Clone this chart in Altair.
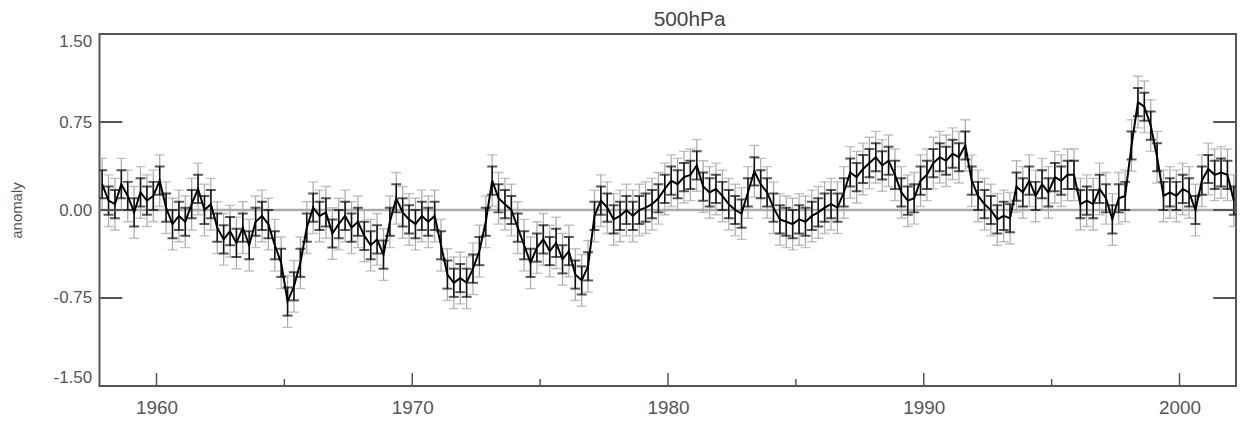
import altair as alt
import pandas as pd

# Seasonal (quarterly) anomaly values, starting 1957.875
START = 1957.875
STEP = 0.25
ANOM = [
    0.22, 0.08, 0.05, 0.22,      # 1958
    0.12, -0.02, 0.15, 0.08,     # 1959
    0.12, 0.25, 0.02, -0.12,     # 1960
    -0.05, -0.10, 0.05, 0.18,    # 1961
    0.00, 0.05, -0.15, -0.25,    # 1962
    -0.18, -0.28, -0.15, -0.30,  # 1963
    -0.10, -0.05, -0.12, -0.30,  # 1964
    -0.45, -0.78, -0.65, -0.45,  # 1965
    -0.15, 0.02, -0.05, -0.02,   # 1966
    -0.20, -0.12, -0.05, -0.15,  # 1967
    -0.10, -0.22, -0.30, -0.25,  # 1968
    -0.38, -0.10, 0.10, -0.02,   # 1969
    -0.08, -0.12, -0.05, -0.10,  # 1970
    -0.05, -0.30, -0.55, -0.62,  # 1971
    -0.58, -0.62, -0.50, -0.35,  # 1972
    -0.10, 0.25, 0.10, 0.05,     # 1973
    0.00, -0.15, -0.30, -0.45,   # 1974
    -0.32, -0.25, -0.35, -0.28,  # 1975
    -0.42, -0.35, -0.55, -0.60,  # 1976
    -0.48, -0.05, 0.08, 0.02,    # 1977
    -0.08, -0.05, 0.00, -0.05,   # 1978
    0.00, 0.02, 0.05, 0.10,      # 1979
    0.18, 0.25, 0.22, 0.28,      # 1980
    0.30, 0.38, 0.20, 0.15,      # 1981
    0.18, 0.12, 0.05, 0.00,      # 1982
    -0.03, 0.15, 0.33, 0.22,     # 1983
    0.15, 0.02, -0.08, -0.10,    # 1984
    -0.12, -0.08, -0.10, -0.05,  # 1985
    -0.02, 0.02, 0.05, 0.02,     # 1986
    0.15, 0.32, 0.28, 0.35,      # 1987
    0.40, 0.45, 0.38, 0.42,      # 1988
    0.30, 0.15, 0.08, 0.10,      # 1989
    0.25, 0.30, 0.40, 0.45,      # 1990
    0.42, 0.48, 0.45, 0.55,      # 1991
    0.25, 0.12, 0.05, 0.00,      # 1992
    -0.08, -0.05, -0.07, 0.20,   # 1993
    0.15, 0.25, 0.12, 0.22,      # 1994
    0.15, 0.28, 0.25, 0.30,      # 1995
    0.30, 0.05, 0.08, 0.05,      # 1996
    0.18, 0.10, -0.08, 0.10,     # 1997
    0.12, 0.55, 0.92, 0.88,      # 1998
    0.72, 0.45, 0.12, 0.15,      # 1999
    0.12, 0.18, 0.15, 0.00,      # 2000
    0.25, 0.35, 0.30, 0.32,      # 2001
    0.30, 0.08,                  # 2002
]
ERR_INNER = 0.12
ERR_OUTER = 0.22

Y_TICKS = [-1.5, -0.75, 0.0, 0.75, 1.5]
X_MAJOR = [1960, 1970, 1980, 1990, 2000]
X_MINOR = [1965, 1975, 1985, 1995]
X_DOMAIN = [1957.77, 2002.21]
Y_DOMAIN = [-1.5, 1.5]

W, H = 1143, 354
FRAME = "#555555"
FONT = "Liberation Sans"

df = pd.DataFrame({"t": [START + STEP * i for i in range(len(ANOM))], "v": ANOM})
df["lo1"] = df["v"] - ERR_INNER
df["hi1"] = df["v"] + ERR_INNER
df["lo2"] = df["v"] - ERR_OUTER
df["hi2"] = df["v"] + ERR_OUTER

xs = alt.Scale(domain=X_DOMAIN, nice=False, zero=False)
ys = alt.Scale(domain=Y_DOMAIN, nice=False, zero=False)

x_axis = alt.Axis(
    values=X_MAJOR, format="d", ticks=False, domain=False, grid=False,
    labelFontSize=19, labelPadding=13, labelColor="#555", labelFont=FONT,
    labelFlush=False, title=None,
)
y_axis = alt.Axis(
    values=Y_TICKS, ticks=False, domain=False, grid=False,
    labelExpr="replace(format(datum.value, '.2f'), '\u2212', '-')",
    labelFontSize=17, labelPadding=8, labelColor="#555", labelFont=FONT,
    labelFlush=True,
    title="anomaly", titleFontSize=15, titleFontWeight="normal", titleColor="#555",
    titleFont=FONT, titleAngle=-90, titleX=-78, titleY=H / 2,
    titleAlign="center", titleBaseline="alphabetic",
)


def X(field):
    return alt.X(field, scale=xs, axis=x_axis)


def Y(field):
    return alt.Y(field, scale=ys, axis=y_axis)


base = alt.Chart(df)

zero = alt.Chart(pd.DataFrame({"z": [0.0]})).mark_rule(
    color="#aaaaaa", strokeWidth=2.5
).encode(y=Y("z:Q"))

grey_bars = base.mark_rule(color="#a8a8a8", strokeWidth=1.2, clip=True).encode(
    x=X("t:Q"), y=Y("lo2:Q"), y2="hi2:Q"
)
grey_cap_lo = base.mark_tick(orient="horizontal", color="#a8a8a8", size=10, thickness=1.4, clip=True).encode(
    x=X("t:Q"), y=Y("lo2:Q")
)
grey_cap_hi = base.mark_tick(orient="horizontal", color="#a8a8a8", size=10, thickness=1.4, clip=True).encode(
    x=X("t:Q"), y=Y("hi2:Q")
)
black_bars = base.mark_rule(color="#111", strokeWidth=1.6, clip=True).encode(
    x=X("t:Q"), y=Y("lo1:Q"), y2="hi1:Q"
)
black_cap_lo = base.mark_tick(orient="horizontal", color="#111", size=10, thickness=2, clip=True).encode(
    x=X("t:Q"), y=Y("lo1:Q")
)
black_cap_hi = base.mark_tick(orient="horizontal", color="#111", size=10, thickness=2, clip=True).encode(
    x=X("t:Q"), y=Y("hi1:Q")
)
line = base.mark_line(color="#000", strokeWidth=2, clip=True).encode(
    x=X("t:Q"), y=Y("v:Q")
)

ytick_df = pd.DataFrame({"yv": Y_TICKS})
ytick_left = alt.Chart(ytick_df).mark_rule(color=FRAME, strokeWidth=2).encode(
    y=Y("yv:Q"), x=alt.value(0), x2=alt.value(23)
)
ytick_right = alt.Chart(ytick_df).mark_rule(color=FRAME, strokeWidth=2).encode(
    y=Y("yv:Q"), x=alt.value(W - 23), x2=alt.value(W)
)
xmaj = alt.Chart(pd.DataFrame({"xv": X_MAJOR})).mark_rule(color=FRAME, strokeWidth=1.5).encode(
    x=X("xv:Q"), y=alt.value(H), y2=alt.value(H - 13)
)
xmin = alt.Chart(pd.DataFrame({"xv": X_MINOR})).mark_rule(color=FRAME, strokeWidth=1.5).encode(
    x=X("xv:Q"), y=alt.value(H), y2=alt.value(H - 7)
)

chart = alt.layer(
    zero, grey_bars, grey_cap_lo, grey_cap_hi, black_bars, black_cap_lo, black_cap_hi, line,
    ytick_left, ytick_right, xmaj, xmin,
).properties(
    width=W,
    height=H,
    background="white",
    title=alt.TitleParams(
        "500hPa", fontSize=21, fontWeight="normal", color="#444", font=FONT,
        anchor="middle", dx=22, offset=3,
    ),
    autosize=alt.AutoSizeParams(type="none"),
    padding={"left": 92, "top": 25, "right": 2, "bottom": 36},
).configure_view(
    stroke=FRAME, strokeWidth=2
)

chart.save("out.html", embed_options={"renderer": "svg", "actions": False})
